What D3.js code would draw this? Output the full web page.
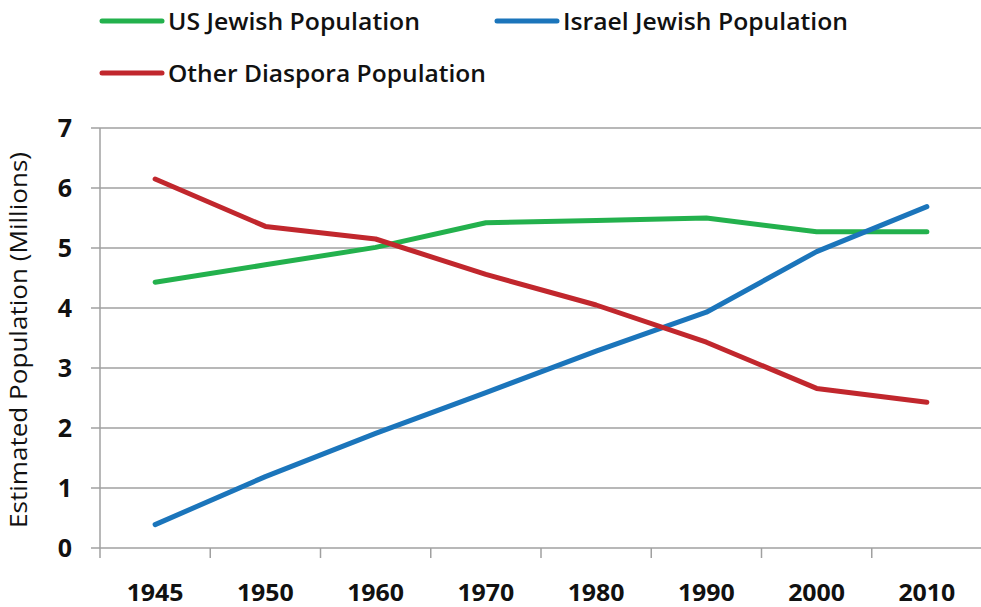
<!DOCTYPE html>
<html>
<head>
<meta charset="utf-8">
<script src="https://cdn.jsdelivr.net/npm/d3@7"></script>
<style>
  html, body { margin: 0; padding: 0; background: #fff; }
  svg { display: block; font-family: "Open Sans", sans-serif; }
</style>
</head>
<body>
<div class="chart"></div>
<script>
// data
const years = ["1945", "1950", "1960", "1970", "1980", "1990", "2000", "2010"]
const usJewish = [4.43, 4.72, 5.01, 5.42, 5.46, 5.50, 5.27, 5.27]
const israelJewish = [0.39, 1.19, 1.91, 2.59, 3.28, 3.93, 4.94, 5.69]
const otherDiaspora = [6.15, 5.36, 5.15, 4.56, 4.05, 3.43, 2.66, 2.43]
const yTicks = [0, 1, 2, 3, 4, 5, 6, 7]

const series = [
  {name: "US Jewish Population", values: usJewish, color: "#23b14d", lx: 102, ly: 21, tw: 252},
  {name: "Israel Jewish Population", values: israelJewish, color: "#1b75bb", lx: 497, ly: 21, tw: 285},
  {name: "Other Diaspora Population", values: otherDiaspora, color: "#c1272d", lx: 102, ly: 73, tw: 318}
]

const width = 981
const height = 607
const margin = ({top: 128, right: -1, bottom: 59, left: 100})

const x = d3.scaleBand()
  .domain(years)
  .range([margin.left, width - margin.right])

const y = d3.scaleLinear()
  .domain([0, 7])
  .range([height - margin.bottom, margin.top])

const svg = d3.select(".chart").append("svg")
  .attr("width", width)
  .attr("height", height)
  .attr("viewBox", [0, 0, width, height])

// horizontal grid
svg.append("g")
  .attr("stroke", "#a0a0a0")
  .attr("stroke-width", 1.5)
  .selectAll("line")
  .data(yTicks)
  .join("line")
    .attr("x1", margin.left - 9)
    .attr("x2", width - margin.right)
    .attr("y1", d => y(d))
    .attr("y2", d => y(d))

// y axis line
svg.append("line")
  .attr("stroke", "#a0a0a0")
  .attr("stroke-width", 1.5)
  .attr("x1", margin.left).attr("x2", margin.left)
  .attr("y1", y(7)).attr("y2", y(0))

// x tick marks between categories
const bounds = years.map(d => x(d)).concat([x(years[years.length - 1]) + x.bandwidth()])
svg.append("g")
  .attr("stroke", "#a0a0a0")
  .attr("stroke-width", 1.5)
  .selectAll("line")
  .data(bounds)
  .join("line")
    .attr("x1", d => d).attr("x2", d => d)
    .attr("y1", y(0)).attr("y2", y(0) + 10)

// y tick labels
svg.append("g")
  .attr("font-size", 25)
  .attr("font-weight", "bold")
  .attr("fill", "#111")
  .attr("text-anchor", "end")
  .selectAll("text")
  .data(yTicks)
  .join("text")
    .attr("x", 72)
    .attr("y", d => y(d))
    .attr("dy", "0.36em")
    .text(d => d)

// x tick labels
svg.append("g")
  .attr("font-size", 23)
  .attr("font-weight", "bold")
  .attr("fill", "#111")
  .attr("text-anchor", "middle")
  .selectAll("text")
  .data(years)
  .join("text")
    .attr("x", d => x(d) + x.bandwidth() / 2)
    .attr("y", 601)
    .attr("textLength", 57)
    .attr("lengthAdjust", "spacingAndGlyphs")
    .text(d => d)

// y axis title
svg.append("text")
  .attr("text-anchor", "middle")
  .attr("font-size", 23)
  .attr("fill", "#111")
  .attr("transform", "translate(27,340)rotate(-90)")
  .attr("textLength", 376)
  .attr("lengthAdjust", "spacingAndGlyphs")
  .text("Estimated Population (Millions)")

// lines
const line = d3.line()
  .x((d, i) => x(years[i]) + x.bandwidth() / 2)
  .y(d => y(d))

svg.append("g")
  .attr("fill", "none")
  .attr("stroke-width", 5)
  .attr("stroke-linecap", "round")
  .attr("stroke-linejoin", "round")
  .selectAll("path")
  .data(series)
  .join("path")
    .attr("stroke", d => d.color)
    .attr("d", d => line(d.values))

// legend
const legend = svg.append("g")
  .selectAll("g")
  .data(series)
  .join("g")
    .attr("transform", d => `translate(${d.lx},${d.ly})`)

legend.append("line")
  .attr("x1", 0).attr("x2", 60)
  .attr("stroke", d => d.color)
  .attr("stroke-width", 5)
  .attr("stroke-linecap", "round")

legend.append("text")
  .attr("x", 66)
  .attr("dy", "0.36em")
  .attr("font-size", 24)
  .attr("font-weight", 600)
  .attr("fill", "#111")
  .attr("textLength", d => d.tw)
  .attr("lengthAdjust", "spacingAndGlyphs")
  .text(d => d.name)
</script>
</body>
</html>
